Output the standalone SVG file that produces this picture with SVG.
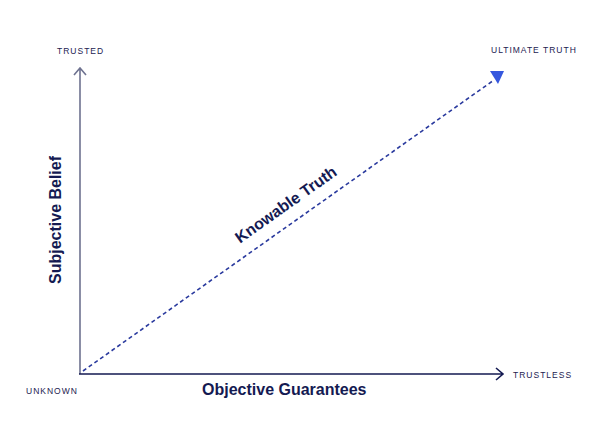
<svg xmlns="http://www.w3.org/2000/svg" width="600" height="446" viewBox="0 0 600 446">
<style>
.small{font-family:"Liberation Sans",Arial,sans-serif;font-size:8.5px;letter-spacing:1px;fill:#1c2150}
.big{font-family:"Liberation Sans",Arial,sans-serif;font-size:16px;font-weight:bold;fill:#141a52}
</style>
<rect width="600" height="446" fill="#ffffff"/>
<g id="connectors">
<path d="M80 374V68M74 75L80 68L86 75" fill="none" stroke="#6e7290" stroke-width="1.6"/>
<path d="M79 374H503M496 368L503 374L496 380" fill="none" stroke="#141a52" stroke-width="1.6"/>
<line x1="83" y1="371" x2="494" y2="80" stroke="#2a3a9e" stroke-width="1.6" stroke-dasharray="4 3"/>
<polygon points="490,71 504,71 498,84" fill="#3557de"/>
</g>
<g id="trusted"><text class="small" x="57" y="54">TRUSTED</text></g>
<g id="ultimate"><text class="small" x="491" y="53">ULTIMATE TRUTH</text></g>
<g id="unknown"><text class="small" x="26" y="394">UNKNOWN</text></g>
<g id="trustless"><text class="small" x="513" y="378">TRUSTLESS</text></g>
<g id="objective"><text class="big" x="202" y="395">Objective Guarantees</text></g>
<g id="subjective"><text class="big" transform="translate(61 284) rotate(-90)">Subjective Belief</text></g>
<g id="knowable"><text class="big" text-anchor="middle" transform="translate(289 209) rotate(-35.3)">Knowable Truth</text></g>
</svg>
